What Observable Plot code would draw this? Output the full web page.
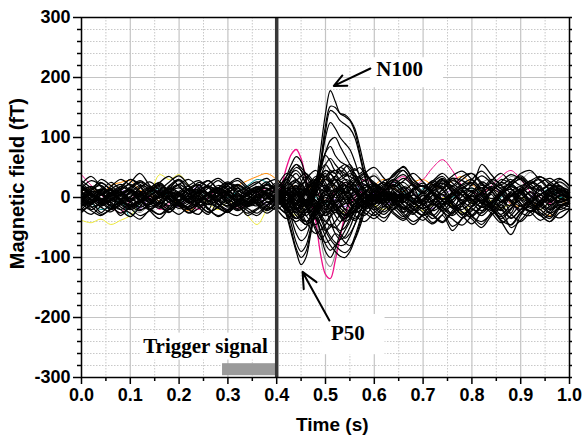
<!DOCTYPE html>
<html><head><meta charset="utf-8">
<script src="https://cdn.jsdelivr.net/npm/d3@7"></script>
<script src="https://cdn.jsdelivr.net/npm/@observablehq/plot@0.6"></script>
<style>body{margin:0;background:#fff}</style>
</head><body><div id="chart"></div>
<script>
// ---- time axes ----
const times = [0,0.02,0.04,0.06,0.08,0.1,0.12,0.14,0.16,0.18,0.2,0.22,0.24,0.26,0.28,0.3,0.32,0.34,0.36,0.38,0.4,0.42,0.44,0.46,0.48,0.5,0.52,0.54,0.56,0.58,0.6,0.62,0.64,0.66,0.68,0.7,0.72,0.74,0.76,0.78,0.8,0.82,0.84,0.86,0.88,0.9,0.92,0.94,0.96,0.98,1.0];
const windowTimes = [0.40,0.41,0.42,0.43,0.44,0.45,0.46,0.47,0.48,0.49,0.50,0.51,0.52,0.53,0.54,0.55,0.56,0.57,0.58,0.59,0.60,0.61,0.62,0.63,0.64,0.65,0.66];

// ---- black channel traces, full epoch (fT) ----
const blackTraces = [
[3,-6,8,-4,10,-2,5,-8,4,9,-5,2,-9,6,-1,7,-10,3,-4,7,1,9,-5,12,-8,4,-6,10,-3,5,-11,8,-4,6,-9,3,-12,5,-8,10,-4,7,-15,3,-6,11,-3,5,-8,4,1],
[-4,8,-10,5,-2,9,-6,3,-11,4,8,-3,10,-5,2,-8,6,-2,9,-7,-3,-10,6,-15,5,-8,11,-4,8,-6,4,-10,7,-3,10,-5,8,-15,6,-4,9,-10,5,-18,8,-3,10,-6,4,-9,2],
[20,8,-5,-18,-10,12,25,10,-8,-20,-5,15,22,4,-12,-22,-6,10,18,5,-10,5,20,-15,-25,10,30,5,-20,-8,12,25,-5,-18,-28,-5,15,28,10,-12,-30,-15,8,25,15,-10,-22,-5,12,20,0],
[-15,-5,10,25,12,-8,-20,-12,5,18,28,10,-10,-25,-15,5,20,12,-6,-18,-10,8,-25,-40,-20,15,10,25,12,-10,-20,-8,15,25,8,-15,-30,-12,10,22,30,12,-15,-35,-20,5,25,18,-5,-20,-10],
[0,10,5,-10,-20,-8,6,15,25,8,-12,-25,-10,8,20,12,-4,-15,-8,10,15,-5,-20,10,35,20,-15,-30,-10,8,22,10,-12,-25,-8,12,28,15,-10,-28,-15,10,30,20,-6,-25,-30,-8,15,10,-5],
[12,-20,-8,5,15,30,18,-5,-15,-25,-8,10,15,28,12,-10,-22,-12,5,12,20,10,-10,-20,20,45,30,-5,-25,-15,5,18,30,12,-8,-20,-35,-18,6,20,25,5,-18,-28,-12,10,22,30,10,-15,-20],
[8,2,-12,-4,6,14,-3,-15,-6,10,4,-8,12,18,-2,-10,8,-14,-5,12,6,-12,15,8,-20,-10,14,20,-6,-16,10,4,-14,18,6,-10,-4,12,-18,-8,6,16,-10,-22,4,14,-8,-16,10,6,-4],
[-10,-22,-30,-18,-5,8,-6,-20,-28,-14,2,12,-4,-18,-32,-20,-6,4,-12,-26,-15,-5,-18,-30,-12,5,-10,-25,-38,-20,-5,8,-12,-30,-45,-28,-10,-22,-48,-35,-15,-5,-20,-40,-62,-30,-12,-25,-35,-15,-8],
[15,28,20,8,18,30,22,10,25,35,18,6,20,28,15,22,32,18,8,24,30,15,28,40,22,10,25,38,30,22,15,28,35,52,30,18,25,15,32,28,20,55,38,22,30,20,28,35,22,18,12],
[-20,-8,-25,-12,-30,-15,-5,-22,-35,-18,-8,-20,-28,-10,-18,-25,-12,-30,-20,-8,-15,-28,-40,-25,-10,-30,-20,-35,-22,-12,-28,-40,-20,-32,-15,-25,-42,-30,-55,-35,-20,-30,-18,-38,-45,-25,-15,-30,-22,-12,-10],
[10,18,6,14,22,12,4,16,24,10,2,14,20,8,16,26,12,6,18,14,8,20,28,14,4,18,30,22,10,16,24,12,20,32,18,8,22,14,28,20,10,26,16,8,22,30,18,12,20,14,8],
[2,-12,14,-18,6,-8,18,-4,-16,8,20,-10,4,-20,12,-6,16,-14,2,-18,8,-22,18,-10,25,-15,6,-20,14,-8,22,-16,4,-24,16,-12,20,-6,-28,10,-14,24,-18,6,-26,12,-8,20,-16,4,-2],
[-25,-10,5,-8,-20,-32,-15,2,-12,-24,-8,6,-16,-28,-6,4,-10,-22,-30,-14,0,-18,-35,-20,-5,-25,-15,-2,-20,-30,-12,-5,-25,-35,-18,-6,-28,-40,-22,-10,-30,-45,-25,-12,-35,-20,-8,-28,-40,-18,-10],
[22,35,18,5,12,25,40,20,8,15,30,12,25,18,6,20,28,15,10,22,12,30,45,25,15,35,20,8,28,40,22,12,30,45,25,18,10,28,20,35,40,22,15,30,25,40,45,28,15,30,20],
[0,5,-3,8,-6,2,10,-4,6,-8,3,-2,7,-5,9,-1,4,-7,5,0,-6,8,-12,15,-5,10,-8,3,-10,6,-4,12,-2,-8,5,-6,9,-3,7,-10,2,-5,10,-7,4,-2,8,-9,3,6,0],
[-6,12,20,5,-10,-18,-5,12,22,8,-8,-16,4,18,10,-6,-20,-10,8,16,-12,-25,-8,20,30,12,-12,-28,-14,6,20,14,-4,-16,-22,-8,14,24,10,-6,-18,-26,-10,12,22,8,-12,-20,-6,10,4],
[14,4,-8,-20,-12,0,16,26,12,-4,-14,-6,10,20,6,-10,-18,-4,12,22,16,30,10,-30,-45,-20,5,20,10,-15,-10,15,30,18,-5,-18,-8,15,32,14,-8,-22,-12,8,26,34,16,-6,-18,-4,8],
[-12,0,14,6,-6,-16,-8,10,18,4,-10,-20,-8,6,16,24,8,-8,-14,0,12,-20,-35,-15,25,35,8,-20,-35,-10,15,25,10,-12,-26,-14,4,18,-6,-24,-32,-12,10,20,6,-14,-24,-10,6,14,2],
[5,15,25,12,-2,8,20,14,0,12,22,30,16,2,10,24,18,4,14,26,10,25,50,35,5,-20,-10,15,35,28,12,20,38,45,22,10,25,35,18,30,40,25,12,26,38,30,15,25,32,20,10],
[-5,-15,-28,-20,-8,-18,-30,-22,-10,-2,-14,-26,-18,-6,-12,-24,-30,-16,-4,-14,-20,-10,-30,-45,-35,-55,-40,-20,-30,-40,-25,-15,-28,-38,-22,-12,-30,-42,-25,-15,-32,-40,-28,-20,-50,-38,-22,-30,-40,-25,-18],
[18,6,-6,2,14,22,10,-4,4,16,8,-6,-14,-2,10,18,4,-8,2,12,6,-15,-25,10,30,15,-20,-10,5,20,8,-12,-20,0,14,24,6,-10,2,16,10,-8,-16,4,18,10,-6,-12,8,16,6],
[-18,-28,-14,-4,-16,-26,-36,-20,-8,-18,-28,-14,-4,-20,-30,-22,-10,-18,-26,-12,-5,-20,-10,-40,-60,-45,-25,-35,-20,-8,-22,-34,-18,-6,-20,-32,-44,-28,-14,-24,-36,-50,-30,-16,-28,-40,-24,-12,-26,-34,-20],
[28,16,4,18,30,20,8,-2,12,26,36,20,6,16,28,14,2,14,24,32,18,35,55,40,20,45,30,10,25,40,50,32,18,28,40,26,12,22,36,44,30,16,28,40,24,12,22,34,26,14,8],
[-2,-10,4,12,-4,-14,-6,8,16,-2,-12,-20,-8,6,-4,-16,-8,4,14,2,-8,10,25,-10,-35,-25,5,15,-5,-20,-10,4,-8,-18,-6,8,-4,-16,-26,-10,4,-6,-18,-8,6,-10,-24,-14,2,-6,-2],
[6,-4,12,2,-10,-4,8,16,4,-8,-14,-2,10,4,-6,12,20,6,-8,-2,10,-12,-20,15,25,-10,-25,5,15,-5,-12,6,16,2,-10,-18,-6,8,18,4,-10,2,14,-4,-14,6,16,0,-12,-4,2],
[-8,4,-2,-14,-6,6,-4,-12,2,14,6,-6,-16,-8,4,-2,-12,-4,10,4,-6,15,30,5,-20,-30,-5,20,10,-10,-4,8,-6,-20,-12,4,-8,-22,-4,10,-2,-16,-8,6,14,-4,-18,-6,8,-2,-6],
[12,18,8,-2,6,14,4,-6,2,10,16,6,-4,4,12,2,-8,4,14,8,-4,-20,10,35,15,-15,5,25,15,0,10,22,14,4,12,20,8,-4,6,16,24,10,-2,8,18,6,-6,4,14,10,4],
[-14,-6,-16,-24,-10,-2,-12,-20,-8,2,-8,-18,-10,0,-10,-20,-14,-4,-12,-22,-10,5,-15,-40,-25,0,-20,-35,-15,-5,-18,-28,-12,-2,-16,-30,-20,-6,-18,-34,-22,-8,-20,-32,-18,-4,-16,-28,-14,-6,-10],
[4,10,-2,-8,2,12,6,-4,-10,0,8,14,2,-6,4,10,-2,-10,0,6,12,-5,-25,-10,20,40,15,-10,-5,10,18,6,-8,-2,12,20,4,-12,-4,8,16,2,-14,-6,10,18,2,-10,-2,8,0],
[-2,6,14,8,-4,-12,-4,6,-2,-14,-6,4,12,6,-6,-14,-4,8,16,4,-6,20,40,10,-15,5,30,20,-5,-15,-6,10,20,6,-8,-2,12,4,-12,-20,-6,8,18,10,-4,-14,-2,12,20,6,0],
[20,12,24,14,4,16,26,18,8,-2,10,20,28,16,6,14,22,10,0,12,24,10,-10,-25,5,30,20,5,20,35,25,12,28,38,20,6,18,30,14,4,22,36,24,10,20,32,18,6,16,26,14],
[-22,-12,-2,-14,-26,-16,-6,-18,-28,-20,-10,-2,-12,-24,-16,-4,-14,-26,-18,-8,-20,-35,-15,10,-10,-40,-50,-30,-15,-25,-35,-20,-10,-26,-40,-28,-12,-24,-36,-46,-30,-16,-26,-42,-30,-14,-24,-38,-26,-12,-16],
[8,-2,-10,-4,6,-6,-16,-8,2,10,2,-8,-4,8,16,6,-6,-12,-2,8,-2,-15,-35,-20,10,20,-10,-30,-20,0,8,-6,-18,-8,4,-10,-22,-12,2,12,-4,-16,-6,6,-8,-20,-10,4,12,-2,-4],
[-10,2,10,0,-12,-20,-10,2,12,4,-8,-16,-6,6,14,4,-6,-14,-4,6,0,25,10,-25,-15,15,35,10,-10,5,-14,-24,-8,10,22,8,-8,-18,-30,-14,2,-10,-22,-12,2,14,4,-10,-20,-8,-2],
[16,6,-4,8,18,10,0,-8,4,14,22,10,-2,6,16,8,-4,4,12,20,10,-10,5,30,45,25,0,15,30,15,2,14,26,12,-2,8,20,32,16,4,-6,10,24,14,2,12,28,16,4,12,8],
[-6,-16,-8,4,-4,-14,-22,-10,0,-8,-18,-10,2,-6,-16,-24,-12,-2,-10,-20,-8,10,-20,-45,-30,-5,-15,-30,-10,-20,-30,-14,-2,-12,-26,-38,-20,-6,-16,-30,-44,-24,-8,-18,-34,-20,-6,-14,-26,-16,-8],
[0,-8,6,14,4,-6,2,12,20,8,-4,4,14,6,-6,-14,-4,8,16,2,4,-10,15,25,-5,-20,10,30,20,-10,-2,12,22,6,-10,-2,14,24,8,-6,6,20,10,-8,2,16,26,12,-4,4,2],
[10,-4,-14,-6,4,12,2,-10,-18,-6,6,14,0,-12,-4,8,16,2,-10,-2,-12,0,-20,-45,-15,10,-20,-40,-25,-5,-16,-4,8,-6,-20,-30,-14,-2,-12,-28,-16,-4,-14,-30,-46,-26,-10,-20,-32,-14,-6],
[-4,4,-6,2,8,-2,-8,4,10,-4,-10,0,6,-6,2,10,0,-8,4,-2,6,-5,20,-15,-30,-5,15,5,-15,10,4,-8,6,16,-2,-12,4,-6,-16,2,12,-2,-10,6,14,0,-8,4,-6,2,0],
[24,14,30,20,8,18,28,16,6,20,30,18,8,22,32,20,10,18,26,14,20,40,30,5,15,35,45,30,20,28,36,22,40,50,30,18,28,40,24,14,30,44,28,16,26,36,22,12,24,32,18]
];

// ---- coloured channel traces, full epoch (fT) ----
const colorNames = ["yellow","orange","magenta","teal","gray","purple"];
const colorHex = ["#eeea3a","#ff8a00","#ee1188","#008f8f","#8c8c8c","#8040c0"];
const colorTraces = [
[-38,-42,-36,-45,-38,-30,-10,5,38,30,38,20,5,-10,-20,-8,-15,-30,-45,-20,0,-15,-30,-10,5,-5,-15,-25,-10,0,-12,-20,-8,5,-10,-22,-12,0,-15,-25,-8,5,-6,-18,-10,0,-12,-20,-8,0,-5],
[10,15,5,20,25,28,12,5,-5,10,-15,-22,-10,5,15,10,20,28,35,40,30,15,20,10,25,30,15,5,-10,5,20,30,15,10,25,30,20,15,28,35,22,10,15,5,-10,-15,-5,-20,-30,-15,0],
[38,20,5,-15,-25,-5,10,0,-20,-10,5,-8,-20,0,12,-5,-18,-8,5,15,5,-10,5,-5,10,-5,10,25,15,30,20,10,25,35,20,30,50,63,45,20,10,5,20,35,45,30,10,0,-10,5,0],
[5,-10,-20,-15,-5,-32,-10,5,15,0,-10,5,10,-5,-15,0,10,20,30,25,10,-5,5,15,0,-10,5,15,20,5,-5,10,25,10,-5,15,5,-10,0,10,15,5,-10,0,20,10,-5,5,15,0,5],
[-10,-20,-5,10,5,-15,-25,-10,5,15,-5,-20,-28,-10,8,-5,-15,0,12,-5,-10,5,20,15,-5,-15,-5,10,25,15,40,20,5,15,25,10,0,20,30,15,10,25,30,15,35,30,42,30,15,25,10],
[0,8,-12,5,15,-5,-18,2,12,-8,-15,6,18,4,-10,-20,-6,10,5,-12,-4,15,-20,-10,12,20,-5,-15,10,22,5,-12,-5,15,8,-10,-18,2,12,-6,-15,5,18,6,-12,-20,0,14,-8,4,0]
];

// ---- evoked responses, 0.40–0.66 s window (fT) ----
const responseTraces = [
[5,-5,8,15,12,0,-10,-15,20,80,140,178,160,140,135,128,110,75,40,10,-5,-10,0,8,-5,5,0],
[0,8,15,10,5,-5,-12,-8,10,60,120,152,150,140,138,130,115,85,50,20,0,-8,-5,5,10,0,-5],
[-5,0,10,18,10,0,-5,-10,5,50,110,145,140,128,122,115,100,70,35,10,-5,-10,0,10,5,-5,0],
[5,10,5,0,-5,-10,-15,-5,15,55,100,125,115,100,90,80,60,35,15,0,-10,-5,5,10,0,-5,5],
[0,-5,5,10,5,-8,-10,0,20,45,75,95,100,85,70,55,40,25,10,0,-5,5,10,0,-8,0,5],
[0,5,-5,0,10,5,-5,5,25,50,75,85,70,60,55,50,35,20,5,-5,0,10,5,-5,0,5,0],
[-5,5,10,5,-5,-15,-10,10,30,55,70,60,45,50,55,45,30,15,5,-5,-10,0,10,5,-5,0,5],
[5,0,-5,10,15,5,-5,0,15,35,55,65,55,45,35,40,35,20,10,0,-5,5,0,-5,5,0,-5],
[0,10,15,10,0,-10,-5,15,30,45,55,45,40,50,45,30,20,10,0,-10,-5,5,10,5,0,-5,0],
[-5,0,5,0,-5,0,10,20,30,40,35,45,40,30,35,45,40,25,10,0,5,15,10,0,-5,0,5],
[0,10,5,-5,0,10,15,20,30,35,30,40,45,40,50,55,45,50,40,30,20,10,0,-5,5,0,-5],
[5,0,10,15,10,0,5,15,25,20,30,25,35,45,40,35,48,40,45,30,15,5,-5,0,5,0,5],
[0,15,35,55,68,60,30,0,-20,-35,-40,-30,-20,-15,-10,-5,0,5,0,-5,0,5,0,-5,0,5,0],
[5,10,25,45,55,45,20,5,-10,-20,-25,-20,-10,-5,0,5,10,5,0,-5,0,5,10,0,-5,0,5],
[0,-10,-30,-60,-90,-112,-100,-60,-25,-10,-5,-15,-30,-40,-35,-20,-10,0,5,0,-5,5,0,-5,0,5,0],
[0,-5,-20,-45,-75,-90,-80,-50,-20,-5,-10,-25,-45,-55,-50,-35,-20,-10,0,5,0,-5,0,5,0,-5,0],
[5,0,-15,-35,-60,-72,-65,-40,-15,-5,-20,-40,-60,-70,-65,-50,-30,-15,-5,0,5,0,-5,0,5,0,-5],
[0,5,-10,-30,-45,-55,-50,-30,-20,-30,-50,-65,-75,-80,-78,-65,-45,-25,-10,0,5,0,-5,0,5,0,0],
[0,-5,-25,-55,-85,-100,-90,-55,-25,-10,-5,-10,-20,-15,-5,0,5,0,-5,0,5,0,-5,0,5,0,0],
[0,5,0,-10,-20,-15,-5,-10,-25,-45,-65,-80,-90,-98,-100,-90,-70,-45,-20,-5,0,5,0,-5,0,5,0],
[-5,0,5,-5,-15,-25,-20,-5,-15,-35,-55,-70,-80,-88,-92,-85,-65,-40,-15,0,5,0,-5,5,0,-5,0],
[5,10,5,-5,-10,-5,-15,-30,-50,-65,-75,-70,-60,-65,-75,-80,-70,-50,-25,-5,0,-5,5,0,5,0,-5],
[0,-10,-15,-25,-35,-30,-20,-35,-55,-70,-60,-45,-50,-60,-68,-60,-45,-25,-10,0,5,0,-5,0,0,5,0],
[0,-5,5,10,15,5,-5,-15,-30,-60,-90,-100,-85,-60,-40,-25,-10,0,5,0,-5,0,5,0,-5,0,0],
[5,0,-5,5,10,0,-10,-20,-35,-55,-78,-88,-80,-70,-55,-40,-20,-5,0,5,0,-5,0,5,0,-5,5]
];
const grayResponse = [0,5,10,15,20,10,0,-15,-35,-70,-105,-115,-95,-65,-35,-15,0,5,0,-5,0,5,0,-5,0,5,0];
const magentaResponse = [0,20,50,72,80,65,30,-5,-40,-95,-128,-135,-105,-65,-30,-10,0,10,5,-5,0,10,5,0,-5,0,5];

// ---- axes ticks ----
const xMajor = [0,0.1,0.2,0.3,0.4,0.5,0.6,0.7,0.8,0.9,1.0];
const xMinor = [0.05,0.15,0.25,0.35,0.45,0.55,0.65,0.75,0.85,0.95];
const yMajor = [-300,-200,-100,0,100,200,300];
const yMinor = [-280,-260,-240,-220,-180,-160,-140,-120,-80,-60,-40,-20,20,40,60,80,120,140,160,180,220,240,260,280];

// ---- annotations ----
const triggerTime = [0.4];
const triggerBarStart = [0.289], triggerBarEnd = [0.4], triggerBarLow = [-297], triggerBarHigh = [-277];
const labelTexts = ["N100","P50","Trigger signal"];
const labelTimes = [0.652,0.546,0.254];
const labelValues = [203,-237,-259];
const boxT1 = [0.592,0.492,0.121], boxT2 = [0.742,0.622,0.387], boxV1 = [183,-262,-271], boxV2 = [233,-195,-226];
const arrowT1 = [0.592,0.508], arrowV1 = [215,-205], arrowT2 = [0.517,0.453], arrowV2 = [186,-124];
const axisTitles = ["Time (s)","Magnetic field (fT)"];

// ---- build tables ----
function rows(tArr, traces, prefix) {
  const out = [];
  traces.forEach((vals, k) => vals.forEach((v, i) => { if (tArr[i] !== undefined) out.push({t: tArr[i], v, id: prefix + k}); }));
  return out;
}
const blackRows = rows(times, blackTraces, "b");
const colorRows = [];
colorTraces.forEach((vals, k) => vals.forEach((v, i) => colorRows.push({t: times[i], v, id: colorNames[k], c: colorHex[k]})));
const respRows = rows(windowTimes, responseTraces, "r");
const grayRows = grayResponse.map((v, i) => ({t: windowTimes[i], v}));
const magRows = magentaResponse.map((v, i) => ({t: windowTimes[i], v}));
const boxes = boxT1.map((d, i) => ({t1: d, t2: boxT2[i], v1: boxV1[i], v2: boxV2[i]}));
const labels = labelTexts.map((s, i) => ({s, t: labelTimes[i], v: labelValues[i]}));
const arrows = arrowT1.map((d, i) => ({t1: d, v1: arrowV1[i], t2: arrowT2[i], v2: arrowV2[i]}));
const bar = [{t1: triggerBarStart[0], t2: triggerBarEnd[0], v1: triggerBarLow[0], v2: triggerBarHigh[0]}];

const serif = "'Liberation Serif','Times New Roman',serif";
const chart = Plot.plot({
  width: 582, height: 436,
  marginLeft: 81, marginRight: 13, marginTop: 17, marginBottom: 59,
  x: {domain: [0, 1]},
  y: {domain: [-300, 300]},
  style: {fontFamily: "'Liberation Sans',Arial,sans-serif", fontSize: "18px", fontWeight: "bold", background: "white", color: "black"},
  marks: [
    Plot.ruleX(xMinor, {stroke: "#c8c8c8", strokeDasharray: "1.5,1.5"}),
    Plot.ruleY(yMinor, {stroke: "#c8c8c8", strokeDasharray: "1.5,1.5"}),
    Plot.ruleX(xMajor, {stroke: "#c4c4c4", strokeWidth: 1.2}),
    Plot.ruleY(yMajor, {stroke: "#c4c4c4", strokeWidth: 1.2}),
    Plot.rect(boxes, {x1: "t1", x2: "t2", y1: "v1", y2: "v2", fill: "white"}),
    Plot.line(colorRows, {x: "t", y: "v", z: "id", stroke: "c", strokeWidth: 1, curve: "catmull-rom"}),
    Plot.line(grayRows, {x: "t", y: "v", stroke: "#8c8c8c", strokeWidth: 1.1, curve: "catmull-rom"}),
    Plot.line(magRows, {x: "t", y: "v", stroke: "#ee1188", strokeWidth: 1.3, curve: "catmull-rom"}),
    Plot.line(blackRows, {x: "t", y: "v", z: "id", stroke: "black", strokeWidth: 1.25, curve: "catmull-rom"}),
    Plot.line(respRows, {x: "t", y: "v", z: "id", stroke: "black", strokeWidth: 1.2, curve: "catmull-rom"}),
    Plot.rect(bar, {x1: "t1", x2: "t2", y1: "v1", y2: "v2", fill: "#9a9a9a"}),
    Plot.ruleX(triggerTime, {stroke: "#383838", strokeWidth: 3.5}),
    Plot.frame({stroke: "black", strokeWidth: 1.5}),
    Plot.axisX(xMajor, {anchor: "bottom", tickSize: 7, tickPadding: 4, strokeWidth: 1.5, tickFormat: d => d.toFixed(1), label: null}),
    Plot.axisX(xMinor, {anchor: "bottom", tickSize: 4, strokeWidth: 1.5, tickFormat: () => "", label: null}),
    Plot.axisY(yMajor, {anchor: "left", tickSize: 8, tickPadding: 3, strokeWidth: 1.5, tickFormat: d => String(d), label: null}),
    Plot.axisY(yMinor, {anchor: "left", tickSize: 4, strokeWidth: 1.5, tickFormat: () => "", label: null}),
    Plot.axisY(yMinor.concat(yMajor), {anchor: "right", tickSize: 2, strokeWidth: 1.5, tickFormat: () => "", label: null}),
    Plot.text([axisTitles[0]], {x: () => 0.514, frameAnchor: "bottom", dy: 53, lineAnchor: "bottom", fontSize: 19, fontWeight: "bold"}),
    Plot.text([axisTitles[1]], {x: () => 0, y: () => 23, dx: -64, rotate: -90, fontSize: 20, fontWeight: "bold"}),
    Plot.text(labels, {x: "t", y: "v", text: "s", lineAnchor: "bottom", fontFamily: serif, fontSize: 21, fontWeight: "bold"}),
    Plot.arrow(arrows, {x1: "t1", y1: "v1", x2: "t2", y2: "v2", stroke: "black", strokeWidth: 2, headLength: 13, headAngle: 50})
  ]
});
document.getElementById("chart").appendChild(chart);
</script>
</body></html>
